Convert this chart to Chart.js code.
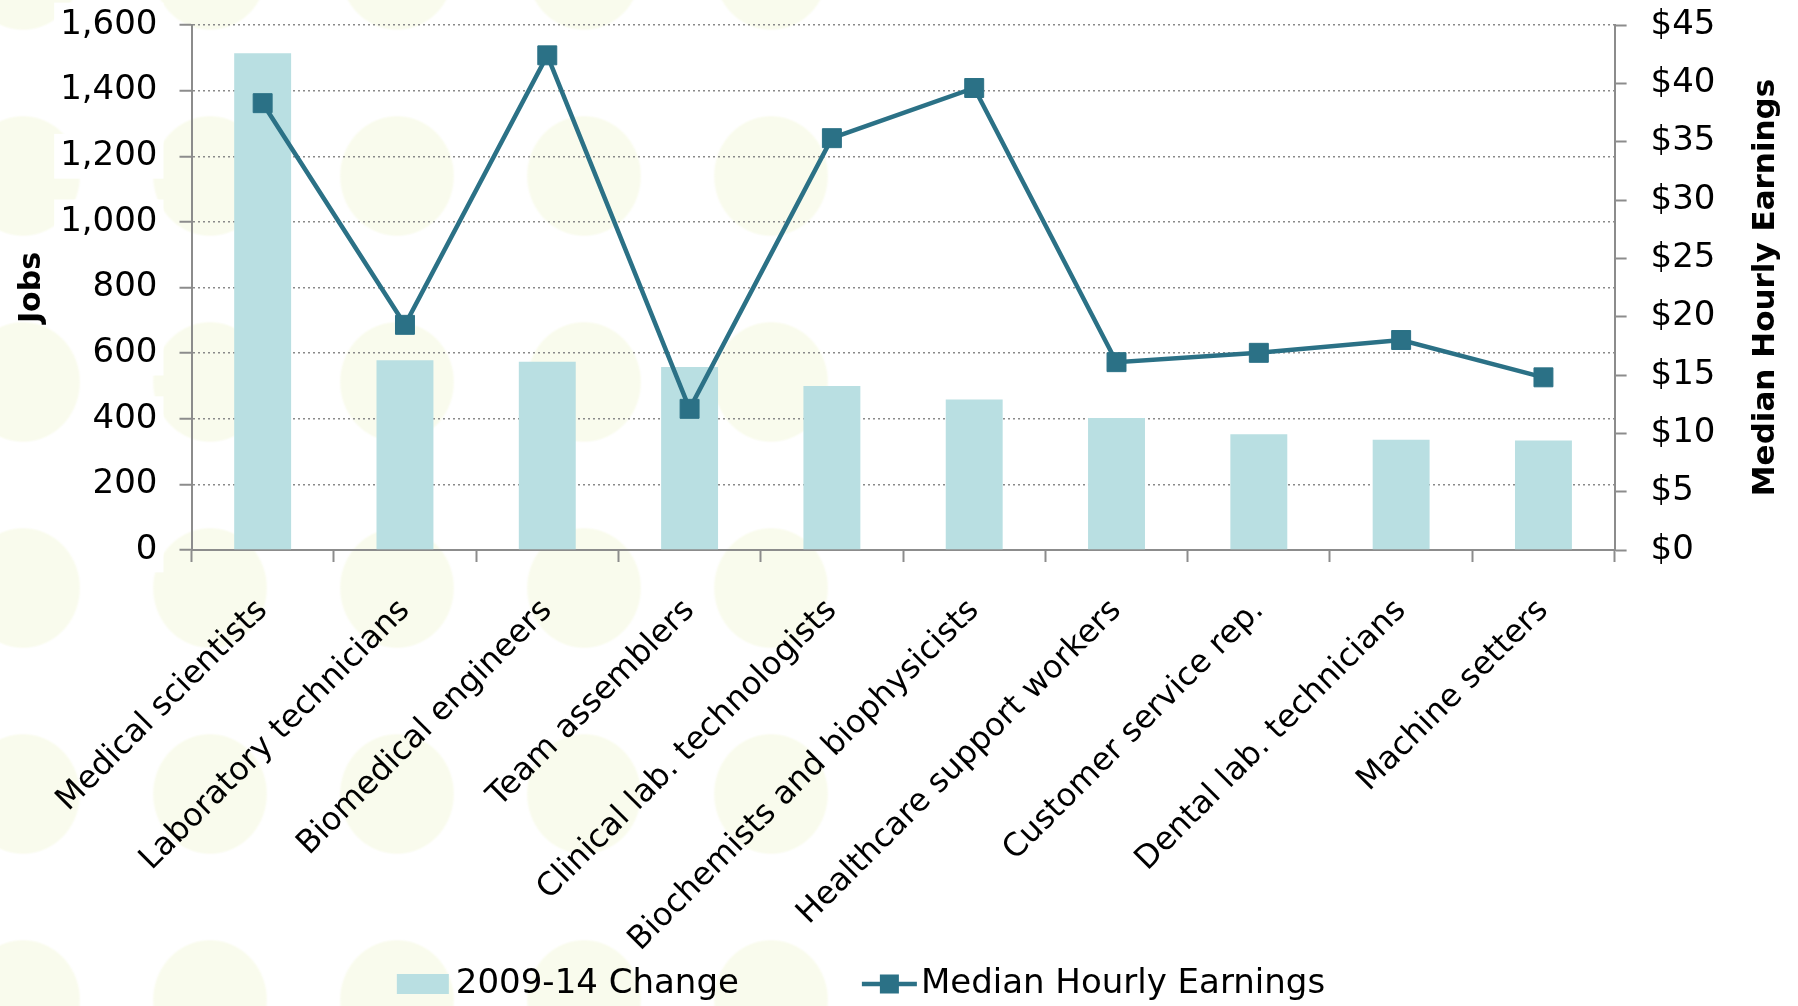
<!DOCTYPE html>
<html>
<head>
<meta charset="utf-8">
<title>Jobs and Median Hourly Earnings</title>
<script src="https://cdn.jsdelivr.net/npm/chart.js@4.4.1/dist/chart.umd.min.js"></script>
<style>
  html, body { margin: 0; padding: 0; background: #fff; }
  .wrap {
    position: relative;
    width: 1798px;
    height: 1006px;
    overflow: hidden;
    background-image:
      linear-gradient(to right, rgba(255,255,255,0) 0, rgba(255,255,255,0) 46%, #fff 50%),
      radial-gradient(ellipse 58px 61px at 50% 50%, #f9fbed 0, #f9fbed 96%, rgba(249,251,237,0) 100%);
    background-size: 100% 100%, 187px 206px;
    background-position: 0 0, -70.5px 73px;
  }
  canvas { display: block; }
</style>
</head>
<body>
<div class="wrap">
  <canvas id="chart" width="1798" height="1006"></canvas>
</div>
<script>
const occupations = [
  "Medical scientists",
  "Laboratory technicians",
  "Biomedical engineers",
  "Team assemblers",
  "Clinical lab. technologists",
  "Biochemists and biophysicists",
  "Healthcare support workers",
  "Customer service rep.",
  "Dental lab. technicians",
  "Machine setters"
];
const jobsChange = [1514, 578, 574, 558, 500, 459, 402, 353, 336, 334];
const hourlyEarnings = [38.3, 19.3, 42.4, 12.1, 35.3, 39.6, 16.1, 16.9, 18.0, 14.8];

const barColor = "#b9dfe2";
const lineColor = "#2b7186";
const axisGray = "#8c8c8c";
const font = '"DejaVu Sans", sans-serif';

// legend at the bottom: swatch + text, line marker drawn as line with square
const bottomLegend = {
  id: "bottomLegend",
  afterDraw(chart) {
    const ctx = chart.ctx;
    const ds = chart.data.datasets;
    ctx.save();
    ctx.font = "34px " + font;
    ctx.textBaseline = "middle";
    const y = 984;
    const w0 = ctx.measureText(ds[0].label).width;
    const w1 = ctx.measureText(ds[1].label).width;
    const total = 52 + 7 + w0 + 123 + 55 + 4 + w1;
    let x = 861 - total / 2;

    ctx.fillStyle = ds[0].backgroundColor;
    ctx.fillRect(x, y - 10, 52, 20);
    ctx.fillStyle = "#000";
    ctx.fillText(ds[0].label, x + 59, y);
    x += 59 + w0 + 123;

    ctx.strokeStyle = ds[1].borderColor;
    ctx.lineWidth = 4.5;
    ctx.beginPath();
    ctx.moveTo(x, y);
    ctx.lineTo(x + 55, y);
    ctx.stroke();
    ctx.fillStyle = ds[1].borderColor;
    ctx.fillRect(x + 27.5 - 9.5, y - 9.5, 19, 19);
    ctx.fillStyle = "#000";
    ctx.fillText(ds[1].label, x + 59, y);
    ctx.restore();
  }
};

// right axis title reads bottom to top, like the left one
const rightTitle = {
  id: "rightTitle",
  afterDraw(chart) {
    const ctx = chart.ctx;
    const area = chart.chartArea;
    ctx.save();
    ctx.translate(1766, (area.top + area.bottom) / 2);
    ctx.rotate(-Math.PI / 2);
    ctx.font = "bold 31px " + font;
    ctx.fillStyle = "#000";
    ctx.textAlign = "center";
    ctx.textBaseline = "middle";
    ctx.fillText("Median Hourly Earnings", 0, 0);
    ctx.restore();
  }
};

new Chart(document.getElementById("chart"), {
  data: {
    labels: occupations,
    datasets: [
      {
        type: "bar",
        label: "2009-14 Change",
        data: jobsChange,
        backgroundColor: barColor,
        barPercentage: 0.4,
        categoryPercentage: 1,
        yAxisID: "y",
        order: 1
      },
      {
        type: "line",
        label: "Median Hourly Earnings",
        data: hourlyEarnings,
        borderColor: lineColor,
        backgroundColor: lineColor,
        borderWidth: 4.5,
        tension: 0,
        pointStyle: "rect",
        pointRadius: 13.4,
        pointBackgroundColor: lineColor,
        pointBorderColor: lineColor,
        pointBorderWidth: 1,
        yAxisID: "y1",
        order: 0
      }
    ]
  },
  options: {
    responsive: false,
    animation: false,
    devicePixelRatio: 1,
    layout: { padding: { top: 25, left: 0, right: 0, bottom: 0 } },
    plugins: {
      legend: { display: false },
      tooltip: { enabled: false }
    },
    scales: {
      x: {
        offset: true,
        grid: {
          offset: true,
          drawOnChartArea: false,
          drawTicks: true,
          tickLength: 12,
          tickColor: axisGray,
          tickWidth: 2
        },
        border: { color: axisGray, width: 2 },
        ticks: {
          autoSkip: false,
          minRotation: 45,
          maxRotation: 45,
          padding: 30,
          color: "#000",
          font: { family: font, size: 32 }
        },
        afterFit: (s) => { s.height = 456; }
      },
      y: {
        position: "left",
        min: 0,
        max: 1600,
        grid: {
          color: (c) => (c.tick && c.tick.value === 0 ? "rgba(0,0,0,0)" : "#8a8a8a"),
          lineWidth: 1.5,
          tickLength: 12,
          tickColor: axisGray,
          tickWidth: 2,
          tickBorderDash: []
        },
        border: { color: axisGray, width: 2, dash: [2, 3] },
        ticks: {
          stepSize: 200,
          padding: 22,
          color: "#000",
          font: { family: font, size: 34 },
          showLabelBackdrop: true,
          backdropColor: "#fff",
          backdropPadding: { x: 6, y: 2 },
          callback: (v) => v.toLocaleString("en-US")
        },
        title: {
          display: true,
          text: "Jobs",
          color: "#000",
          font: { family: font, size: 30, weight: "bold" },
          padding: { top: 14, bottom: 0 }
        },
        afterFit: (s) => { s.width = 191.5; s.paddingTop = 0; s.paddingBottom = 0; }
      },
      y1: {
        position: "right",
        min: 0,
        max: 45,
        grid: {
          drawOnChartArea: false,
          tickLength: 12,
          tickColor: axisGray,
          tickWidth: 2
        },
        border: { color: axisGray, width: 2 },
        ticks: {
          stepSize: 5,
          padding: 24,
          color: "#000",
          font: { family: font, size: 34 },
          callback: (v) => "$" + v
        },
        afterFit: (s) => { s.width = 183.4; s.paddingTop = 0; s.paddingBottom = 0; }
      }
    }
  },
  plugins: [bottomLegend, rightTitle]
});
</script>
</body>
</html>
